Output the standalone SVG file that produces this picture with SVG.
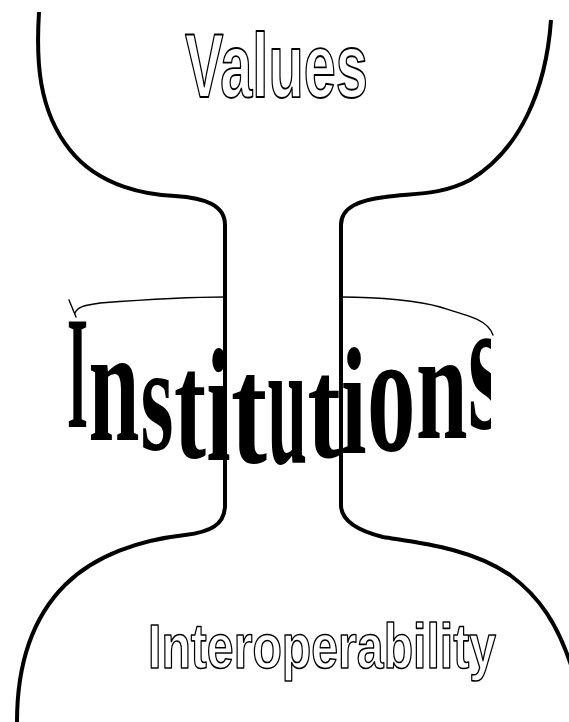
<svg xmlns="http://www.w3.org/2000/svg" width="569" height="722" viewBox="0 0 569 722">
<style>
.shape{fill:none;stroke:#000;stroke-width:4;stroke-linejoin:round;stroke-linecap:butt}
.thin{fill:none;stroke:#000;stroke-width:1.4;stroke-linecap:round}
.outline{font-family:"Liberation Sans",Arial,sans-serif;font-weight:bold;fill:#fff;stroke:#000;stroke-linejoin:round}
.inst{font-family:"Liberation Serif","Times New Roman",serif;font-weight:bold;fill:#000}
</style>
<defs>
<clipPath id="clipInst"><rect x="0" y="250" width="491" height="260"/></clipPath>
</defs>
<rect width="569" height="722" fill="#fff"/>
<g id="connectors">
<path class="shape" d="M39,12 C36,60 38,110 70,150 C100,188 150,195 175,196 C205,198 225,205 225,225 L225,505 C225,525 210,532 185,535 C140,540 95,555 65,585 C35,615 17,660 17,722"/>
<path class="shape" d="M551,20 C546,90 520,150 470,180 C440,196 410,193 385,197 C360,200 341,207 341,225 L341,505 C341,520 355,530 383,537 C420,543 470,548 510,575 C540,597 558,625 572,668"/>
<path class="thin" d="M75,313 C78,305 90,305 100,303 C140,300 190,297 225,297"/>
<path class="thin" d="M69,300 L76,317"/>
<path class="thin" d="M341,297 C380,297 420,301 440,307 C470,316 488,320 493,335"/>
</g>
<g id="values">
<text class="outline" transform="translate(185,97) scale(0.634,1)" x="0" y="0" font-size="91" stroke-width="1.9">Values</text>
</g>
<g id="institutions" clip-path="url(#clipInst)">
<text class="inst"><tspan x="67" y="427" font-size="162" textLength="21" lengthAdjust="spacingAndGlyphs">I</tspan><tspan x="88.5" y="440" font-size="163" textLength="51" lengthAdjust="spacingAndGlyphs">n</tspan><tspan x="140.5" y="450" font-size="150" textLength="33" lengthAdjust="spacingAndGlyphs">s</tspan><tspan x="174" y="457" font-size="152" textLength="32" lengthAdjust="spacingAndGlyphs">t</tspan><tspan x="206.5" y="460" font-size="160" textLength="24" lengthAdjust="spacingAndGlyphs">i</tspan><tspan x="231" y="462" font-size="155" textLength="36" lengthAdjust="spacingAndGlyphs">t</tspan><tspan x="267.5" y="463" font-size="178" textLength="39.5" lengthAdjust="spacingAndGlyphs">u</tspan><tspan x="307.5" y="457" font-size="145" textLength="33" lengthAdjust="spacingAndGlyphs">t</tspan><tspan x="341" y="453" font-size="152" textLength="25.5" lengthAdjust="spacingAndGlyphs">i</tspan><tspan x="367" y="450" font-size="172" textLength="48.5" lengthAdjust="spacingAndGlyphs">o</tspan><tspan x="416" y="438" font-size="155" textLength="51.5" lengthAdjust="spacingAndGlyphs">n</tspan><tspan x="468" y="428" font-size="190" textLength="36" lengthAdjust="spacingAndGlyphs">s</tspan></text>
</g>
<g id="interoperability">
<text class="outline" transform="translate(148,668) scale(0.765,1)" x="0" y="0" font-size="63" stroke-width="1.6">Interoperability</text>
</g>
</svg>
